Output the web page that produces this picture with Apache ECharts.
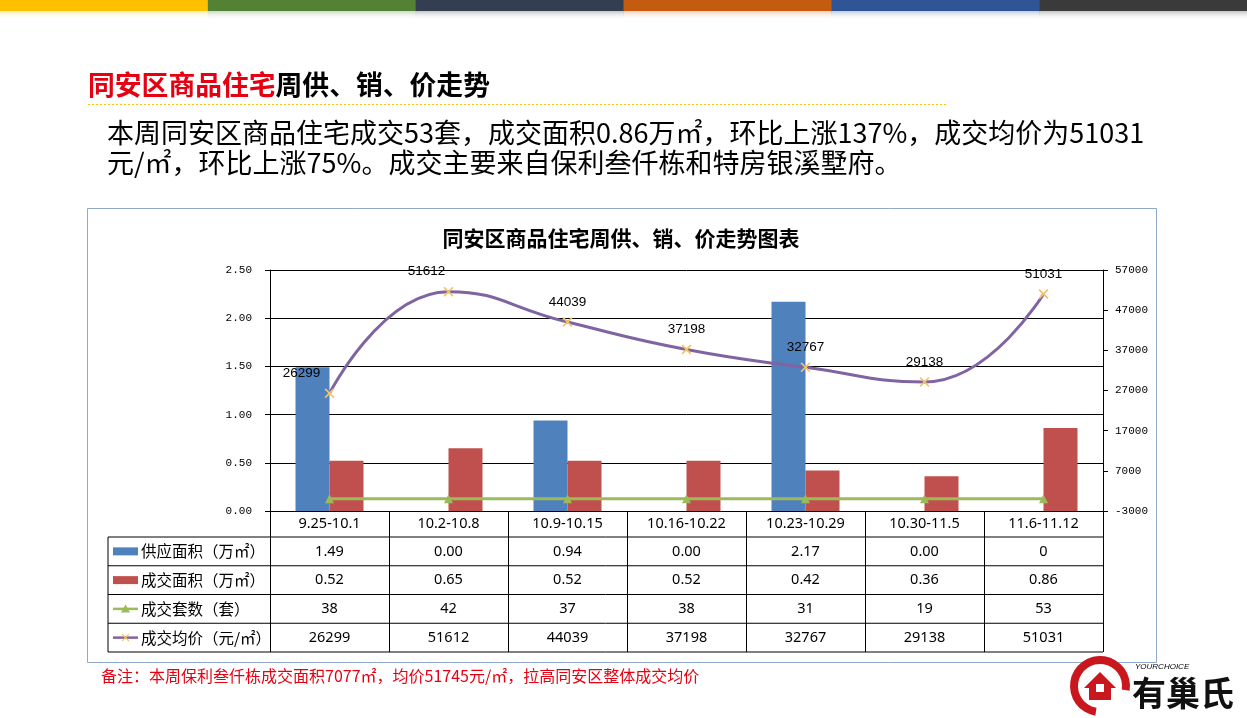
<!DOCTYPE html>
<html><head><meta charset="utf-8">
<script src="https://cdn.jsdelivr.net/npm/echarts@6/dist/echarts.min.js"></script>
<style>html,body{margin:0;padding:0;background:#fff}#c{width:1247px;height:718px}</style>
</head><body><div id="c"></div>
<script>
// ---- data ----
const categories = ['9.25-10.1','10.2-10.8','10.9-10.15','10.16-10.22','10.23-10.29','10.30-11.5','11.6-11.12'];
const supplyArea = [1.49, 0.00, 0.94, 0.00, 2.17, 0.00, 0];
const supplyText = ['1.49','0.00','0.94','0.00','2.17','0.00','0'];
const dealArea = [0.52, 0.65, 0.52, 0.52, 0.42, 0.36, 0.86];
const dealUnits = [38, 42, 37, 38, 31, 19, 53];
const avgPrice = [26299, 51612, 44039, 37198, 32767, 29138, 51031];
const seriesNames = ['供应面积（万㎡）','成交面积（万㎡）','成交套数（套）','成交均价（元/㎡）'];
const leftAxis = {min: 0, max: 2.5, interval: 0.5};
const rightAxis = {min: -3000, max: 57000, interval: 10000};
const pageTitleRed = '同安区商品住宅';
const pageTitleBlack = '周供、销、价走势';
const paraLine1 = '本周同安区商品住宅成交53套，成交面积0.86万㎡，环比上涨137%，成交均价为51031';
const paraLine2 = '元/㎡，环比上涨75%。成交主要来自保利叁仟栋和特房银溪墅府。';
const chartTitle = '同安区商品住宅周供、销、价走势图表';
const footnote = '备注：本周保利叁仟栋成交面积7077㎡，均价51745元/㎡，拉高同安区整体成交均价';

// ---- layout / style ----
const G = {left: 270, right: 1103, top: 270, bottom: 511};
const rowLines = [537, 565.75, 594.5, 623.25, 652];
const tableLeft = 108;
const C = {blue:'#4F81BD', red:'#C0504D', green:'#9BBB59', purple:'#8064A2', marker:'#F2C36B'};
const topColors = ['#FFC000','#548235','#333F50','#C55A11','#2F5597','#3A3A3A'];
const labelShift = {0: [-28, 0], 1: [-22, 0]};
const numFont = 'Liberation Mono';
const cjk = '"Noto Sans CJK SC"';

const chart = echarts.init(document.getElementById('c'), null, {renderer: 'canvas'});

const rowTexts = [
  supplyText,
  dealArea.map(v => v.toFixed(2)),
  dealUnits.map(String),
  avgPrice.map(String)
];

const xAxes = [{
  type: 'category', data: categories, position: 'bottom', boundaryGap: true,
  axisLine: {show: true, lineStyle: {color: '#000', width: 1}},
  axisTick: {show: true, interval: 0, length: rowLines[rowLines.length-1] - G.bottom, lineStyle: {color: '#000', width: 1}},
  axisLabel: {interval: 0, margin: 4, lineHeight: 18, fontSize: 14.5, color: '#000', fontFamily: 'Noto Sans'},
  splitLine: {show: false}
}];
rowTexts.forEach((txt, r) => {
  const top = rowLines[r], bot = rowLines[r+1];
  const center = (top + bot) / 2;
  xAxes.push({
    type: 'category', data: categories, position: 'bottom', offset: center - 9 - G.bottom,
    axisLine: {show: false}, axisTick: {show: false}, splitLine: {show: false},
    axisLabel: {interval: 0, margin: 0, lineHeight: 18, fontSize: 14.5, color: '#000', fontFamily: 'Noto Sans',
      formatter: (v, i) => txt[i]}
  });
});

const xPath = 'path://M0,1.2L1.2,0L5,3.8L8.8,0L10,1.2L6.2,5L10,8.8L8.8,10L5,6.2L1.2,10L0,8.8L3.8,5Z';

// graphics
const graphics = [];
const segW = 1247 / topColors.length;
topColors.forEach((c, i) => {
  graphics.push({type: 'rect', shape: {x: i*segW, y: 0, width: segW+0.5, height: 11}, style: {fill: c}, silent: true});
  graphics.push({type: 'rect', shape: {x: i*segW, y: 11, width: segW+0.5, height: 9},
    style: {fill: new echarts.graphic.LinearGradient(0,0,0,1,[{offset:0,color:c},{offset:1,color:'rgba(255,255,255,0)'}]), opacity: 0.3}, silent: true});
});
graphics.push({type: 'text', x: 88, y: 85, style: {
  text: '{r|' + pageTitleRed + '}{b|' + pageTitleBlack + '}', verticalAlign: 'middle',
  rich: {r: {fill: '#E60012', fontSize: 26.8, fontWeight: 'bold', fontFamily: cjk},
         b: {fill: '#000', fontSize: 26.8, fontWeight: 'bold', fontFamily: cjk}}}});
graphics.push({type: 'line', shape: {x1: 88, y1: 104.5, x2: 948, y2: 104.5}, style: {stroke: '#FFC000', lineWidth: 1, lineDash: [2, 2]}});
graphics.push({type: 'text', x: 107, y: 133, style: {text: paraLine1, fill: '#000', fontSize: 27, fontFamily: cjk, verticalAlign: 'middle'}});
graphics.push({type: 'text', x: 107, y: 163, style: {text: paraLine2, fill: '#000', fontSize: 27, fontFamily: cjk, verticalAlign: 'middle'}});
// chart frame
graphics.push({type: 'rect', shape: {x: 87.5, y: 208.5, width: 1069, height: 454}, style: {fill: 'none', stroke: '#8FA9C8', lineWidth: 1}, z: -1});
graphics.push({type: 'text', x: 621, y: 238, style: {text: chartTitle, fill: '#000', fontSize: 21, fontWeight: 'bold', fontFamily: cjk, align: 'center', verticalAlign: 'middle'}});
// table lines
rowLines.forEach(y => graphics.push({type: 'line', shape: {x1: tableLeft, y1: y, x2: G.right, y2: y}, style: {stroke: '#000', lineWidth: 1}}));
graphics.push({type: 'line', shape: {x1: tableLeft, y1: rowLines[0], x2: tableLeft, y2: rowLines[rowLines.length-1]}, style: {stroke: '#000', lineWidth: 1}});
// table legend column
seriesNames.forEach((name, r) => {
  const cy = (rowLines[r] + rowLines[r+1]) / 2;
  const kx = 113, kw = 25;
  if (r === 0 || r === 1) {
    graphics.push({type: 'rect', shape: {x: kx, y: cy - 4, width: kw, height: 8}, style: {fill: r === 0 ? C.blue : C.red}});
  } else if (r === 2) {
    graphics.push({type: 'line', shape: {x1: kx, y1: cy, x2: kx + kw, y2: cy}, style: {stroke: C.green, lineWidth: 2.5}});
    graphics.push({type: 'polygon', shape: {points: [[kx+kw/2, cy-4.5],[kx+kw/2+4.5, cy+3.5],[kx+kw/2-4.5, cy+3.5]]}, style: {fill: C.green}});
  } else {
    graphics.push({type: 'line', shape: {x1: kx, y1: cy, x2: kx + kw, y2: cy}, style: {stroke: C.purple, lineWidth: 2.5}});
    graphics.push({type: 'line', shape: {x1: kx+kw/2-3.5, y1: cy-3.5, x2: kx+kw/2+3.5, y2: cy+3.5}, style: {stroke: C.marker, lineWidth: 1.3}});
    graphics.push({type: 'line', shape: {x1: kx+kw/2+3.5, y1: cy-3.5, x2: kx+kw/2-3.5, y2: cy+3.5}, style: {stroke: C.marker, lineWidth: 1.3}});
  }
  graphics.push({type: 'text', x: 141, y: cy, style: {text: name, fill: '#000', fontSize: 15.5, fontFamily: cjk, verticalAlign: 'middle'}});
});
// footnote
graphics.push({type: 'text', x: 101, y: 676, style: {text: footnote, fill: '#E60012', fontSize: 16, fontFamily: cjk, verticalAlign: 'middle'}});
// logo (approximation)
graphics.push({type: 'sector', shape: {cx: 1100, cy: 686, r: 30, r0: 22, startAngle: Math.PI*0.55, endAngle: Math.PI*2.05}, style: {fill: '#C9171E'}});
graphics.push({type: 'polygon', shape: {points: [[1084,688],[1100,672],[1116,688],[1111,688],[1111,700],[1089,700],[1089,688]]}, style: {fill: '#C9171E'}});
graphics.push({type: 'rect', shape: {x: 1096, y: 684, width: 8, height: 8}, style: {fill: '#fff'}});
graphics.push({type: 'text', x: 1135, y: 667, style: {text: 'YOURCHOICE', fill: '#000', fontSize: 8, fontStyle: 'italic', fontFamily: 'Liberation Sans', verticalAlign: 'middle'}});
graphics.push({type: 'text', x: 1132, y: 693, style: {text: '有巢氏', fill: '#111', fontSize: 34, fontWeight: 'bold', fontFamily: cjk, verticalAlign: 'middle'}});

const option = {
  animation: false,
  backgroundColor: '#fff',
  grid: {left: G.left, right: 1247 - G.right, top: G.top, bottom: 718 - G.bottom, containLabel: false},
  xAxis: xAxes,
  yAxis: [{
    type: 'value', min: leftAxis.min, max: leftAxis.max, interval: leftAxis.interval, position: 'left',
    axisLine: {show: true, lineStyle: {color: '#000'}},
    axisTick: {show: true, length: 5, lineStyle: {color: '#000'}},
    splitLine: {show: true, lineStyle: {color: '#000', width: 1}},
    axisLabel: {margin: 18, color: '#000', fontSize: 11, fontFamily: numFont, formatter: v => v.toFixed(2)}
  }, {
    type: 'value', min: rightAxis.min, max: rightAxis.max, interval: rightAxis.interval, position: 'right',
    axisLine: {show: true, lineStyle: {color: '#000'}},
    axisTick: {show: true, length: 5, lineStyle: {color: '#000'}},
    splitLine: {show: false},
    axisLabel: {margin: 12, color: '#000', fontSize: 11, fontFamily: numFont, formatter: v => String(v)}
  }],
  series: [{
    name: seriesNames[0], type: 'bar', data: supplyArea, barWidth: 34, barGap: '0%',
    itemStyle: {color: C.blue}, z: 2
  }, {
    name: seriesNames[1], type: 'bar', data: dealArea, barWidth: 34, barGap: '0%',
    itemStyle: {color: C.red}, z: 2
  }, {
    name: seriesNames[2], type: 'line', yAxisIndex: 1, data: dealUnits, smooth: 0.3,
    symbol: 'triangle', symbolSize: 9, showAllSymbol: true,
    lineStyle: {color: C.green, width: 3}, itemStyle: {color: C.green}, z: 4
  }, {
    name: seriesNames[3], type: 'line', yAxisIndex: 1, smooth: 0.5,
    data: avgPrice.map((v, i) => labelShift[i] ? {value: v, label: {offset: labelShift[i]}} : v),
    symbol: xPath, symbolSize: 10, showAllSymbol: true,
    lineStyle: {color: C.purple, width: 3}, itemStyle: {color: C.marker},
    label: {show: true, position: 'top', distance: 8, color: '#000', fontSize: 13.5, fontFamily: 'Liberation Sans'},
    z: 5
  }],
  graphic: graphics
};
chart.setOption(option);
</script>
</body></html>
